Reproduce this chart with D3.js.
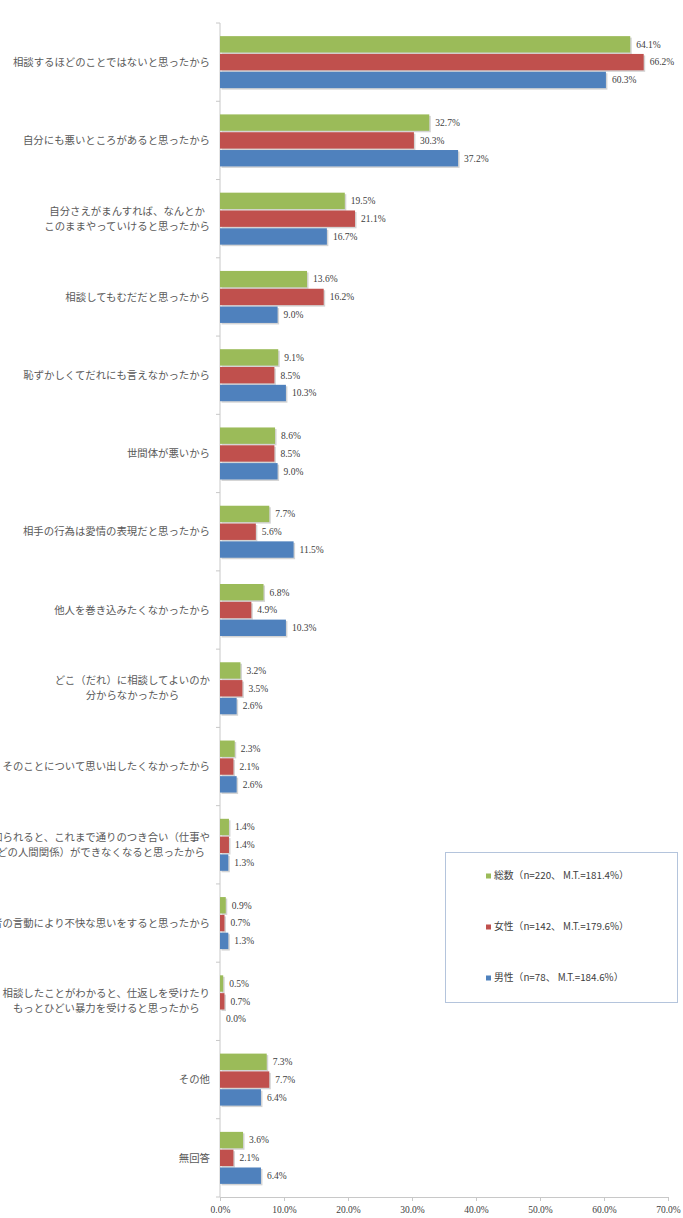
<!DOCTYPE html>
<html><head><meta charset="utf-8">
<script src="https://cdn.jsdelivr.net/npm/d3@7"></script>
<style>
html,body{margin:0;padding:0;background:#fff;}
svg{display:block;}
</style></head>
<body>
<svg id="chart" width="683" height="1218"></svg>
<script>
const categories = [
  ["相談するほどのことではないと思ったから"],
  ["自分にも悪いところがあると思ったから"],
  ["自分さえがまんすれば、なんとか", "このままやっていけると思ったから"],
  ["相談してもむだだと思ったから"],
  ["恥ずかしくてだれにも言えなかったから"],
  ["世間体が悪いから"],
  ["相手の行為は愛情の表現だと思ったから"],
  ["他人を巻き込みたくなかったから"],
  ["どこ（だれ）に相談してよいのか", "分からなかったから"],
  ["そのことについて思い出したくなかったから"],
  ["他人に知られると、これまで通りのつき合い（仕事や", "学校などの人間関係）ができなくなると思ったから"],
  ["担当者の言動により不快な思いをすると思ったから"],
  ["相談したことがわかると、仕返しを受けたり", "もっとひどい暴力を受けると思ったから"],
  ["その他"],
  ["無回答"]
];
const seriesNames = ["総数（n=220、 M.T.=181.4%）", "女性（n=142、 M.T.=179.6%）", "男性（n=78、 M.T.=184.6%）"];
const totalValues  = [64.1, 32.7, 19.5, 13.6, 9.1, 8.6, 7.7, 6.8, 3.2, 2.3, 1.4, 0.9, 0.5, 7.3, 3.6];
const femaleValues = [66.2, 30.3, 21.1, 16.2, 8.5, 8.5, 5.6, 4.9, 3.5, 2.1, 1.4, 0.7, 0.7, 7.7, 2.1];
const maleValues   = [60.3, 37.2, 16.7, 9.0, 10.3, 9.0, 11.5, 10.3, 2.6, 2.6, 1.3, 1.3, 0.0, 6.4, 6.4];
const xTicks = [0, 10, 20, 30, 40, 50, 60, 70];
const colors = ["#9BBB59", "#C0504D", "#4F81BD"];

const seriesValues = [totalValues, femaleValues, maleValues];
const svg = d3.select("#chart");
const plotLeft = 220, plotRight = 668, plotTop = 23, plotBottom = 1197;
const sansFont = "'Noto Sans CJK JP', 'Noto Sans', sans-serif";
const numFont = "'Liberation Serif', 'DejaVu Serif', serif";

const x = d3.scaleLinear().domain([0, 70]).range([plotLeft, plotRight]);
const idx = categories.map((d, i) => i);
const y0 = d3.scaleBand().domain(idx).range([plotTop, plotBottom]);
const groupH = 52;
const y1 = d3.scaleBand().domain([0, 1, 2]).range([0, groupH]).paddingInner(0.08);

// x axis
const xAxis = svg.append("g").attr("transform", `translate(0,${plotBottom})`)
  .call(d3.axisBottom(x).tickValues(xTicks).tickSize(4).tickFormat(d => d.toFixed(1) + "%"));
xAxis.select(".domain").attr("stroke", "#c8c8c8");
xAxis.selectAll(".tick line").attr("stroke", "#c8c8c8");
xAxis.selectAll(".tick text").attr("fill", "#404040").attr("font-size", 9.5).attr("font-family", numFont).attr("dy", "0.95em");

// y axis line + ticks at category boundaries
svg.append("line").attr("x1", plotLeft).attr("x2", plotLeft).attr("y1", plotTop).attr("y2", plotBottom).attr("stroke", "#c8c8c8");
svg.selectAll(".ytick").data(d3.range(categories.length + 1)).enter().append("line")
  .attr("x1", plotLeft - 4).attr("x2", plotLeft)
  .attr("y1", i => plotTop + i * y0.step()).attr("y2", i => plotTop + i * y0.step())
  .attr("stroke", "#c8c8c8");

// bars
const groups = svg.selectAll(".grp").data(idx).enter().append("g")
  .attr("transform", i => `translate(0,${y0(i) + (y0.bandwidth() - groupH) / 2})`);
seriesValues.forEach((vals, s) => {
  groups.append("rect")
    .attr("x", plotLeft + 1.5).attr("y", i => y1(s) + 1.5)
    .attr("width", i => Math.max(0, x(vals[i]) - plotLeft)).attr("height", y1.bandwidth())
    .attr("fill", "#d4d4d4");
  groups.append("rect")
    .attr("x", plotLeft).attr("y", i => y1(s))
    .attr("width", i => x(vals[i]) - plotLeft).attr("height", y1.bandwidth())
    .attr("fill", colors[s]);
  groups.append("text")
    .attr("x", i => x(vals[i]) + 6).attr("y", i => y1(s) + y1.bandwidth() / 2)
    .attr("dy", "0.35em").attr("font-size", 9.5).attr("font-family", numFont).attr("fill", "#404040")
    .text(i => vals[i].toFixed(1) + "%");
});

// category labels
const labelRight = 210, lineH = 15;
categories.forEach((lines, i) => {
  const cy = y0(i) + y0.bandwidth() / 2;
  const g = svg.append("g");
  const texts = lines.map((ln, k) => g.append("text")
    .attr("font-size", 10.4).attr("font-family", sansFont).attr("fill", "#595959")
    .attr("text-anchor", "middle")
    .attr("y", cy + (k - (lines.length - 1) / 2) * lineH).attr("dy", "0.35em")
    .text(ln));
  const maxW = d3.max(texts, t => t.node().getComputedTextLength());
  texts.forEach(t => t.attr("x", labelRight - maxW / 2));
});

// legend
const lg = svg.append("g");
lg.append("rect").attr("x", 445.5).attr("y", 852.5).attr("width", 232).attr("height", 150)
  .attr("fill", "#fff").attr("stroke", "#b4c4dc");
seriesNames.forEach((name, s) => {
  const ly = 876 + s * 51;
  lg.append("rect").attr("x", 486).attr("y", ly - 2.5).attr("width", 5).attr("height", 5).attr("fill", colors[s]);
  lg.append("text").attr("x", 494).attr("y", ly).attr("dy", "0.35em")
    .attr("font-size", 9.8).attr("font-family", sansFont).attr("fill", "#404040").text(name);
});
</script>
</body></html>
